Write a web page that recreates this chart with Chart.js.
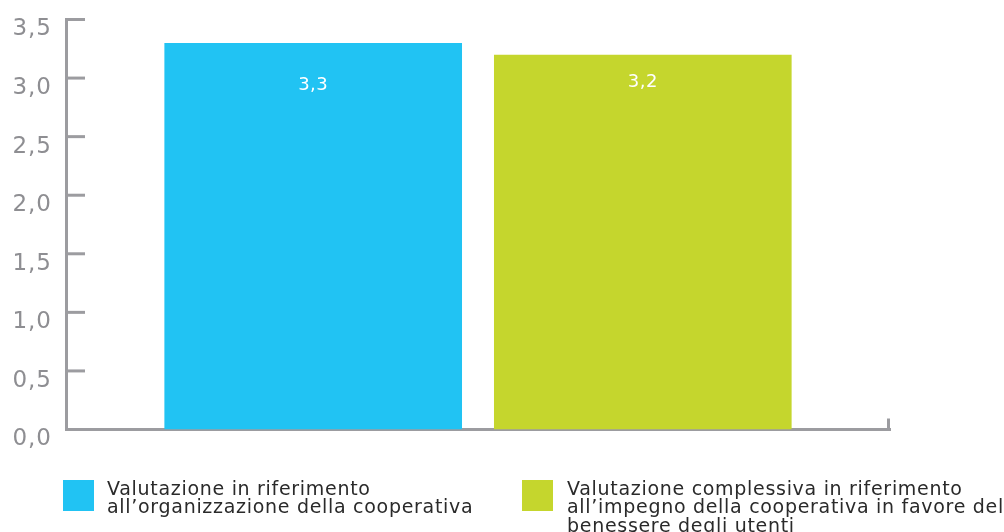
<!DOCTYPE html>
<html lang="it">
<head>
<meta charset="utf-8">
<title>Valutazione</title>
<script src="https://cdn.jsdelivr.net/npm/chart.js@4/dist/chart.umd.min.js"></script>
<style>
  html, body { margin: 0; padding: 0; background: #ffffff; }
  #wrap { position: relative; width: 1004px; height: 532px; overflow: hidden; }
  #c { position: absolute; left: 0; top: 0; }
  .leg-box { position: absolute; width: 31px; height: 31px; }
  .leg-text { position: absolute; font-family: "DejaVu Sans", sans-serif; font-size: 19px;
              letter-spacing: 0.7px; line-height: 18.4px; color: #2a2a2a; white-space: nowrap; }
</style>
</head>
<body>
<div id="wrap">
  <canvas id="c" width="1004" height="532"></canvas>
</div>
<script>
// ---- data ----
const categories = ['Valutazione'];
const seriesLabels = [
  ['Valutazione in riferimento', 'all\u2019organizzazione della cooperativa'],
  ['Valutazione complessiva in riferimento', 'all\u2019impegno della cooperativa in favore del', 'benessere degli utenti']
];
const seriesValues = [3.3, 3.2];
const valueLabels = ['3,3', '3,2'];
const seriesColors = ['#21c3f3', '#c5d62d'];
const yTickValues = [0, 0.5, 1.0, 1.5, 2.0, 2.5, 3.0, 3.5];
const yTickLabels = ['0,0', '0,5', '1,0', '1,5', '2,0', '2,5', '3,0', '3,5'];

const AXIS = '#9c9ca0';

// letter spacing for axis text
const spacing = {
  id: 'spacing',
  beforeDraw(chart) { chart.ctx.letterSpacing = '1px'; }
};

// inward tick marks + right end tick of x axis
const axisMarks = {
  id: 'axisMarks',
  afterDraw(chart) {
    const {ctx, chartArea, scales: {y}} = chart;
    ctx.save();
    ctx.strokeStyle = AXIS;
    ctx.lineWidth = 3;
    ctx.lineCap = 'butt';
    yTickValues.forEach(v => {
      const py = y.getPixelForValue(v);
      ctx.beginPath();
      ctx.moveTo(chartArea.left, py);
      ctx.lineTo(chartArea.left + 19, py);
      ctx.stroke();
    });
    const base = y.getPixelForValue(0);
    ctx.beginPath();
    ctx.moveTo(chartArea.right - 1.5, base);
    ctx.lineTo(chartArea.right - 1.5, base - 11);
    ctx.stroke();
    ctx.restore();
  }
};

// value labels inside bars
const valueText = {
  id: 'valueText',
  afterDatasetsDraw(chart) {
    const {ctx, chartArea} = chart;
    ctx.save();
    ctx.letterSpacing = '0.5px';
    ctx.fillStyle = '#ffffff';
    ctx.font = '18px "DejaVu Sans", sans-serif';
    ctx.textAlign = 'center';
    ctx.textBaseline = 'middle';
    chart.data.datasets.forEach((ds, i) => {
      const bar = chart.getDatasetMeta(i).data[0];
      ctx.fillText(valueLabels[i], bar.x, chartArea.top + (i === 0 ? 66 : 63));
    });
    ctx.restore();
  }
};

new Chart(document.getElementById('c'), {
  type: 'bar',
  data: {
    labels: categories,
    datasets: seriesValues.map((v, i) => ({
      label: seriesLabels[i].join(' '),
      data: [v],
      backgroundColor: seriesColors[i],
      borderWidth: 0,
      categoryPercentage: 0.8,
      barPercentage: 0.903
    }))
  },
  options: {
    responsive: false,
    animation: false,
    layout: { padding: { top: 19.5, right: 114, bottom: 102.5, left: 0 } },
    plugins: { legend: { display: false }, tooltip: { enabled: false } },
    scales: {
      x: {
        afterFit(s) { s.height = 0; s.paddingLeft = 0; s.paddingRight = 0; },
        grid: { display: false },
        ticks: { display: false },
        border: { display: true, color: AXIS, width: 3 }
      },
      y: {
        min: 0, max: 3.5,
        afterFit(s) { s.width = 66; s.paddingTop = 0; s.paddingBottom = 0; },
        afterBuildTicks(s) { s.ticks = yTickValues.map(v => ({ value: v })); },
        grid: { display: false },
        border: { display: true, color: AXIS, width: 3 },
        ticks: {
          padding: 6,
          labelOffset: 10,
          color: '#8e8e92',
          font: { family: '"DejaVu Sans", sans-serif', size: 23 },
          callback: (v) => yTickLabels[yTickValues.indexOf(v)]
        }
      }
    }
  },
  plugins: [spacing, axisMarks, valueText]
});

// legend (HTML text)
const wrap = document.getElementById('wrap');
const legPos = [{ box: 63, text: 107 }, { box: 522, text: 567 }];
seriesLabels.forEach((lines, i) => {
  const b = document.createElement('div');
  b.className = 'leg-box';
  b.style.left = legPos[i].box + 'px';
  b.style.top = '480px';
  b.style.background = seriesColors[i];
  wrap.appendChild(b);
  const t = document.createElement('div');
  t.className = 'leg-text';
  t.style.left = legPos[i].text + 'px';
  t.style.top = '479px';
  lines.forEach((ln, k) => {
    if (k) t.appendChild(document.createElement('br'));
    t.appendChild(document.createTextNode(ln));
  });
  wrap.appendChild(t);
});
</script>
</body>
</html>
